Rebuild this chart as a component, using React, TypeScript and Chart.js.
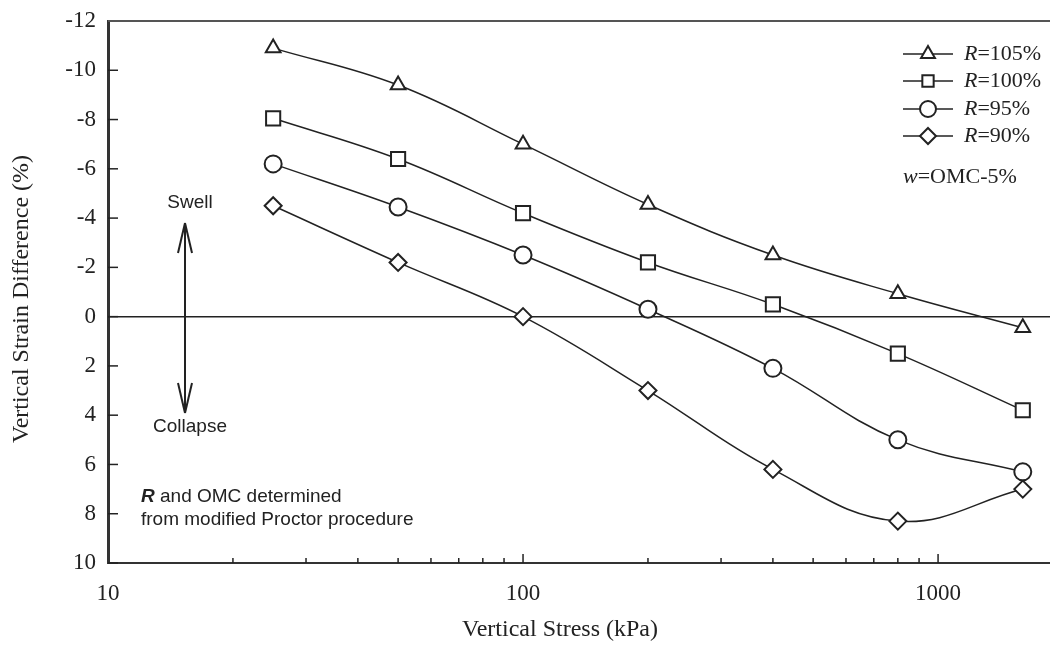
import React, { useEffect, useRef } from 'react';
import { Chart, registerables } from 'chart.js';

Chart.register(...registerables);

// ---- data ----
const stressKPa = [25, 50, 100, 200, 400, 800, 1600];
const strainR105 = [-10.9, -9.4, -7.0, -4.55, -2.5, -0.93, 0.45];
const strainR100 = [-8.05, -6.4, -4.2, -2.2, -0.5, 1.5, 3.8];
const strainR95 = [-6.2, -4.45, -2.5, -0.3, 2.1, 5.0, 6.3];
const strainR90 = [-4.5, -2.2, 0.0, 3.0, 6.2, 8.3, 7.0];
const seriesLabels = ['=105%', '=100%', '=95%', '=90%'];
const seriesStyles = ['triangle', 'rect', 'circle', 'rectRot'];
const xLabelTicks = [10, 100, 1000];
const yTickValues = [-12, -10, -8, -6, -4, -2, 0, 2, 4, 6, 8, 10];

const INK = '#222';
const SERIF = '"Liberation Serif", "Times New Roman", serif';
const SANS = '"Liberation Sans", Arial, sans-serif';

function drawMarker(ctx: CanvasRenderingContext2D, style: string, x: number, y: number, r: number) {
  ctx.beginPath();
  if (style === 'triangle') {
    ctx.moveTo(x, y - r);
    ctx.lineTo(x + r * Math.sqrt(3) / 2, y + r / 2);
    ctx.lineTo(x - r * Math.sqrt(3) / 2, y + r / 2);
    ctx.closePath();
  } else if (style === 'rect') {
    const s = r * Math.SQRT1_2;
    ctx.rect(x - s, y - s, 2 * s, 2 * s);
  } else if (style === 'circle') {
    ctx.arc(x, y, r, 0, Math.PI * 2);
  } else {
    ctx.moveTo(x, y - r);
    ctx.lineTo(x + r, y);
    ctx.lineTo(x, y + r);
    ctx.lineTo(x - r, y);
    ctx.closePath();
  }
  ctx.fillStyle = '#fff';
  ctx.fill();
  ctx.stroke();
}

function seg(ctx: CanvasRenderingContext2D, x1: number, y1: number, x2: number, y2: number) {
  ctx.beginPath();
  ctx.moveTo(x1, y1);
  ctx.lineTo(x2, y2);
  ctx.stroke();
}

const decorPlugin = {
  id: 'decor',
  beforeDatasetsDraw(chart: any) {
    const { ctx, chartArea: a, scales } = chart;
    const xs = scales.x;
    const ys = scales.y;
    ctx.save();
    // zero line
    ctx.strokeStyle = INK;
    ctx.lineWidth = 1.5;
    const y0 = ys.getPixelForValue(0);
    seg(ctx, a.left, y0, a.right, y0);
    // inward x ticks (log minor/major)
    for (const d of xLabelTicks) {
      for (let m = 1; m <= 9; m++) {
        const v = d * m;
        if (v > xs.max || v <= xs.min) continue;
        const px = xs.getPixelForValue(v);
        const len = m === 1 ? 9 : 5;
        seg(ctx, px, a.bottom, px, a.bottom - len);
      }
    }
    // inward y ticks
    for (const v of yTickValues) {
      const py = ys.getPixelForValue(v);
      seg(ctx, a.left, py, a.left + 10, py);
    }
    // top frame
    ctx.strokeStyle = '#555';
    ctx.lineWidth = 2;
    seg(ctx, a.left, a.top, a.right + 20, a.top);
    ctx.restore();
  },
  afterDraw(chart: any) {
    const { ctx } = chart;
    ctx.save();
    ctx.fillStyle = INK;
    ctx.strokeStyle = INK;

    // axis titles
    ctx.font = `24px ${SERIF}`;
    ctx.textAlign = 'center';
    ctx.textBaseline = 'middle';
    ctx.fillText('Vertical Stress (kPa)', 560, 630);
    ctx.save();
    ctx.translate(22, 299);
    ctx.rotate(-Math.PI / 2);
    ctx.fillText('Vertical Strain Difference (%)', 0, 0);
    ctx.restore();

    // swell / collapse arrow
    ctx.lineWidth = 2;
    const ax = 185;
    const top = 223;
    const bot = 413;
    seg(ctx, ax, top, ax, bot);
    seg(ctx, ax, top, ax - 7, top + 30);
    seg(ctx, ax, top, ax + 7, top + 30);
    seg(ctx, ax, bot, ax - 7, bot - 30);
    seg(ctx, ax, bot, ax + 7, bot - 30);
    ctx.font = `19px ${SANS}`;
    ctx.textAlign = 'center';
    ctx.fillText('Swell', 190, 203);
    ctx.fillText('Collapse', 190, 427);

    // note
    ctx.textAlign = 'left';
    ctx.font = `italic bold 19px ${SANS}`;
    ctx.fillText('R', 141, 497);
    const rw = ctx.measureText('R').width;
    ctx.font = `19px ${SANS}`;
    ctx.fillText(' and OMC determined', 141 + rw, 497);
    ctx.fillText('from modified Proctor procedure', 141, 520);

    // legend
    const rows = [54, 81, 109, 136];
    for (let i = 0; i < rows.length; i++) {
      const y = rows[i];
      ctx.lineWidth = 1.5;
      seg(ctx, 903, y, 953, y);
      ctx.lineWidth = 2;
      drawMarker(ctx, seriesStyles[i], 928, y, 8);
      ctx.fillStyle = INK;
      ctx.font = `italic 22px ${SERIF}`;
      ctx.textAlign = 'left';
      ctx.fillText('R', 964, y);
      const w = ctx.measureText('R').width;
      ctx.font = `22px ${SERIF}`;
      ctx.fillText(seriesLabels[i], 964 + w, y);
    }
    ctx.font = `italic 22px ${SERIF}`;
    ctx.fillText('w', 903, 177);
    const ww = ctx.measureText('w').width;
    ctx.font = `22px ${SERIF}`;
    ctx.fillText('=OMC-5%', 903 + ww, 177);

    ctx.restore();
  },
};

function makeDataset(values: number[], style: string) {
  return {
    data: stressKPa.map((x, i) => ({ x, y: values[i] })),
    borderColor: INK,
    borderWidth: 1.5,
    tension: 0.4,
    fill: false,
    pointStyle: style,
    pointRadius: style === 'rect' ? 10 : 8.5,
    pointBackgroundColor: '#fff',
    pointBorderColor: INK,
    pointBorderWidth: 2,
  };
}

export default function App() {
  const ref = useRef<HTMLCanvasElement | null>(null);

  useEffect(() => {
    if (!ref.current) return;
    const chart = new Chart(ref.current, {
      type: 'line',
      data: {
        datasets: [
          makeDataset(strainR105, seriesStyles[0]),
          makeDataset(strainR100, seriesStyles[1]),
          makeDataset(strainR95, seriesStyles[2]),
          makeDataset(strainR90, seriesStyles[3]),
        ] as any,
      },
      options: {
        animation: false,
        responsive: false,
        maintainAspectRatio: false,
        layout: { padding: { top: 21, right: 17, left: 0, bottom: 0 } },
        plugins: {
          legend: { display: false },
          tooltip: { enabled: false },
        },
        scales: {
          x: {
            type: 'logarithmic',
            min: 10,
            max: 2000,
            grid: { display: false, drawTicks: false },
            border: { display: true, width: 2, color: '#333' },
            ticks: {
              autoSkip: false,
              maxRotation: 0,
              padding: 17,
              color: INK,
              font: { family: SERIF, size: 23 },
              callback: (v: any) => (xLabelTicks.includes(Number(v)) ? String(v) : ''),
            },
            afterFit: (s: any) => {
              s.height = 96;
              s.paddingLeft = 0;
              s.paddingRight = 0;
            },
          },
          y: {
            type: 'linear',
            min: -12,
            max: 10,
            reverse: true,
            grid: { display: false, drawTicks: false },
            border: { display: true, width: 3, color: '#333' },
            ticks: {
              stepSize: 2,
              padding: 12,
              color: INK,
              font: { family: SERIF, size: 23 },
            },
            afterFit: (s: any) => {
              s.width = 108;
              s.paddingTop = 0;
              s.paddingBottom = 0;
            },
          },
        },
      } as any,
      plugins: [decorPlugin as any],
    });
    return () => chart.destroy();
  }, []);

  return (
    <div style={{ position: 'absolute', left: 0, top: 0, width: 1050, height: 659, overflow: 'hidden', background: '#fff' }}>
      <canvas ref={ref} width={1080} height={659} style={{ display: 'block' }} />
    </div>
  );
}
